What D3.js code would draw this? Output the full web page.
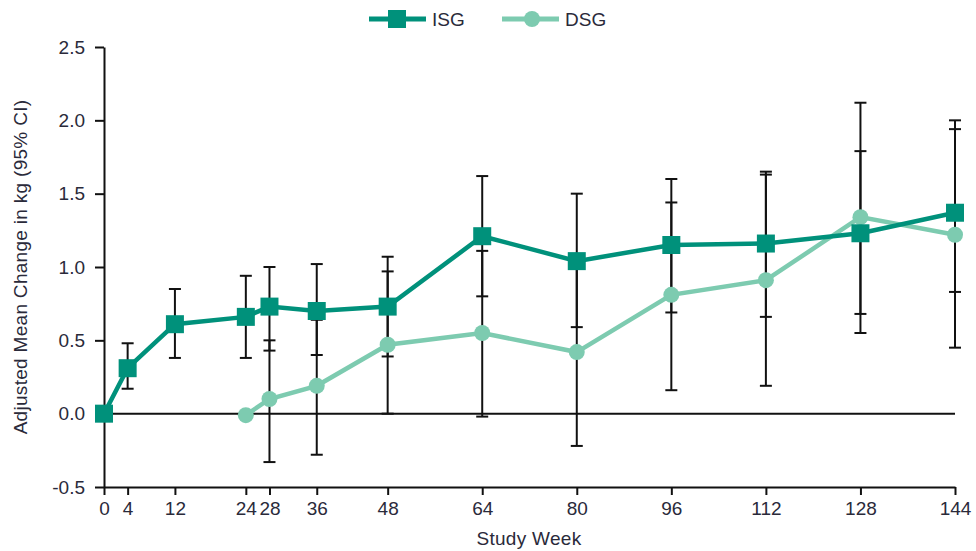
<!DOCTYPE html>
<html>
<head>
<meta charset="utf-8">
<title>Adjusted Mean Change</title>
<style>
  body { margin: 0; background: #fff; font-family: "Liberation Sans", Arial, sans-serif; }
  .axis text { font-size: 19px; fill: #2a2a3a; font-family: "Liberation Sans", Arial, sans-serif; }
  .axis path, .axis line { stroke: #111; stroke-width: 2; }
  .err { stroke: #111; stroke-width: 2; }
  .title { font-size: 19px; fill: #2a2a3a; letter-spacing: 0.3px; }
</style>
</head>
<body>
<svg id="chart" width="976" height="551"></svg>
<script src="https://d3js.org/d3.v7.min.js"></script>
<script>
var weeks = [0, 4, 12, 24, 28, 36, 48, 64, 80, 96, 112, 128, 144];

// ISG series
var isgWeeks = [0, 4, 12, 24, 28, 36, 48, 64, 80, 96, 112, 128, 144];
var isgMean  = [0, 0.31, 0.61, 0.66, 0.73, 0.70, 0.73, 1.21, 1.04, 1.15, 1.16, 1.23, 1.37];
var isgLow   = [null, 0.17, 0.38, 0.38, 0.43, 0.40, 0.39, 0.80, 0.59, 0.69, 0.66, 0.68, 0.83];
var isgHigh  = [null, 0.48, 0.85, 0.94, 1.00, 1.02, 1.07, 1.62, 1.50, 1.60, 1.65, 1.79, 1.94];

// DSG series
var dsgWeeks = [24, 28, 36, 48, 64, 80, 96, 112, 128, 144];
var dsgMean  = [-0.01, 0.10, 0.19, 0.47, 0.55, 0.42, 0.81, 0.91, 1.34, 1.22];
var dsgLow   = [null, -0.33, -0.28, 0.0, -0.02, -0.22, 0.16, 0.19, 0.55, 0.45];
var dsgHigh  = [null, 0.50, 0.64, 0.97, 1.11, 1.04, 1.44, 1.63, 2.12, 2.00];

var yTicks = [-0.5, 0.0, 0.5, 1.0, 1.5, 2.0, 2.5];

var isgColor = "#00917b", dsgColor = "#7dcbb0";

var svg = d3.select("#chart");
var x = d3.scaleLinear().domain([0, 144]).range([104, 955]);
var y = d3.scaleLinear().domain([-0.5, 2.5]).range([487, 47]);

// axes
svg.append("g").attr("class", "axis")
  .attr("transform", "translate(104,0)")
  .call(d3.axisLeft(y).tickValues(yTicks)
    .tickFormat(function(d) { return d.toFixed(1); })
    .tickSize(9).tickSizeOuter(0).tickPadding(10));

svg.append("g").attr("class", "axis")
  .attr("transform", "translate(0,487)")
  .call(d3.axisBottom(x).tickValues(weeks).tickFormat(d3.format("d"))
    .tickSize(8).tickSizeOuter(0).tickPadding(7));

// zero line
svg.append("line")
  .attr("x1", x(0)).attr("x2", x(144))
  .attr("y1", y(0)).attr("y2", y(0))
  .attr("stroke", "#111").attr("stroke-width", 2);

// axis titles
svg.append("text").attr("class", "title")
  .attr("x", 529).attr("y", 545)
  .attr("text-anchor", "middle")
  .text("Study Week");

svg.append("text").attr("class", "title")
  .attr("transform", "translate(27," + y(1.0) + ") rotate(-90)")
  .attr("text-anchor", "middle")
  .text("Adjusted Mean Change in kg (95% CI)");

function zip(ws, m, lo, hi) {
  return ws.map(function(w, i) { return { w: w, m: m[i], lo: lo[i], hi: hi[i] }; });
}
var isg = zip(isgWeeks, isgMean, isgLow, isgHigh);
var dsg = zip(dsgWeeks, dsgMean, dsgLow, dsgHigh);

// error bars
function errorBars(data) {
  var g = svg.append("g");
  var d = data.filter(function(p) { return p.lo !== null; });
  g.selectAll(".v").data(d).enter().append("line").attr("class", "err")
    .attr("x1", function(p) { return x(p.w); }).attr("x2", function(p) { return x(p.w); })
    .attr("y1", function(p) { return y(p.lo); }).attr("y2", function(p) { return y(p.hi); });
  ["lo", "hi"].forEach(function(k) {
    g.selectAll(".c" + k).data(d).enter().append("line").attr("class", "err")
      .attr("x1", function(p) { return x(p.w) - 6; }).attr("x2", function(p) { return x(p.w) + 6; })
      .attr("y1", function(p) { return y(p[k]); }).attr("y2", function(p) { return y(p[k]); });
  });
}
errorBars(isg);
errorBars(dsg);

var line = d3.line().x(function(p) { return x(p.w); }).y(function(p) { return y(p.m); });

// DSG
svg.append("path").datum(dsg).attr("d", line)
  .attr("fill", "none").attr("stroke", dsgColor).attr("stroke-width", 4.5);
svg.selectAll(".dsgPt").data(dsg).enter().append("circle")
  .attr("cx", function(p) { return x(p.w); }).attr("cy", function(p) { return y(p.m); })
  .attr("r", 8).attr("fill", dsgColor);

// ISG
svg.append("path").datum(isg).attr("d", line)
  .attr("fill", "none").attr("stroke", isgColor).attr("stroke-width", 4.5);
svg.selectAll(".isgPt").data(isg).enter().append("rect")
  .attr("x", function(p) { return x(p.w) - 9; }).attr("y", function(p) { return y(p.m) - 9; })
  .attr("width", 18).attr("height", 18).attr("fill", isgColor);

// legend
var legend = [
  { label: "ISG", color: isgColor, shape: "square", x0: 369 },
  { label: "DSG", color: dsgColor, shape: "circle", x0: 502 }
];
var lg = svg.append("g");
legend.forEach(function(l) {
  lg.append("line").attr("x1", l.x0).attr("x2", l.x0 + 57)
    .attr("y1", 19).attr("y2", 19).attr("stroke", l.color).attr("stroke-width", 5);
  if (l.shape === "square") {
    lg.append("rect").attr("x", l.x0 + 19).attr("y", 10).attr("width", 18).attr("height", 18).attr("fill", l.color);
  } else {
    lg.append("circle").attr("cx", l.x0 + 30).attr("cy", 19).attr("r", 8).attr("fill", l.color);
  }
  lg.append("text").attr("x", l.x0 + 63).attr("y", 26)
    .style("font-size", "19px").style("fill", "#2a2a3a").text(l.label);
});
</script>
</body>
</html>
